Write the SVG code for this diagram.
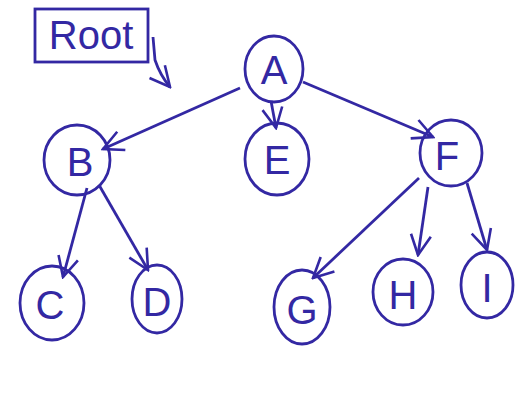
<svg xmlns="http://www.w3.org/2000/svg" width="519" height="400" viewBox="0 0 519 400">
<style>
.n{fill:none;stroke:#3328a3;stroke-width:2.8}
.t{font-family:"Liberation Sans",Arial,sans-serif;font-size:40px;fill:#3328a3;text-anchor:middle;dominant-baseline:central}
.e{fill:none;stroke:#3328a3;stroke-width:2.8;marker-end:url(#ah)}
</style>
<defs>
<marker id="ah" viewBox="0 0 24 24" refX="22" refY="12" markerWidth="24" markerHeight="24" markerUnits="userSpaceOnUse" orient="auto">
<path d="M2,2 L22,12 L2,22" fill="none" stroke="#3328a3" stroke-width="2.6"/>
</marker>
</defs>
<rect width="519" height="400" fill="#ffffff"/>
<g id="root">
<rect x="35" y="9" width="113" height="53" class="n"/>
<text x="91" y="35" class="t" style="font-size:40px">Root</text>
</g>
<g id="A"><ellipse cx="274" cy="69" rx="29" ry="33" class="n"/><text x="274" y="70" class="t">A</text></g>
<g id="B"><ellipse cx="77" cy="160" rx="33" ry="35" class="n"/><text x="80" y="162" class="t">B</text></g>
<g id="E"><ellipse cx="277" cy="159" rx="32" ry="36" class="n"/><text x="277" y="160" class="t">E</text></g>
<g id="F"><ellipse cx="451" cy="153" rx="31" ry="33" class="n"/><text x="447" y="156" class="t">F</text></g>
<g id="C"><ellipse cx="52" cy="303" rx="32" ry="37" class="n"/><text x="50" y="305" class="t">C</text></g>
<g id="D"><ellipse cx="157" cy="299" rx="25" ry="34" class="n"/><text x="157" y="302" class="t">D</text></g>
<g id="G"><ellipse cx="302" cy="307" rx="28" ry="37" class="n"/><text x="302" y="310" class="t">G</text></g>
<g id="H"><ellipse cx="403" cy="292" rx="30" ry="33" class="n"/><text x="403" y="295" class="t">H</text></g>
<g id="I"><ellipse cx="487" cy="285" rx="26" ry="33" class="n"/><text x="487" y="288" class="t">I</text></g>
<g id="connectors">
<path d="M153,37 L155,60 Q160,75 170,87" class="e"/>
<path d="M240,88 L103,149" class="e"/>
<path d="M271,101 L276,128" class="e"/>
<path d="M303,82 L433,137" class="e"/>
<path d="M87,188 L63,277" class="e"/>
<path d="M99,185 L148,270" class="e"/>
<path d="M419,178 L313,278" class="e"/>
<path d="M428,187 L418,255" class="e"/>
<path d="M467,183 L487,250" class="e"/>
</g>
</svg>
